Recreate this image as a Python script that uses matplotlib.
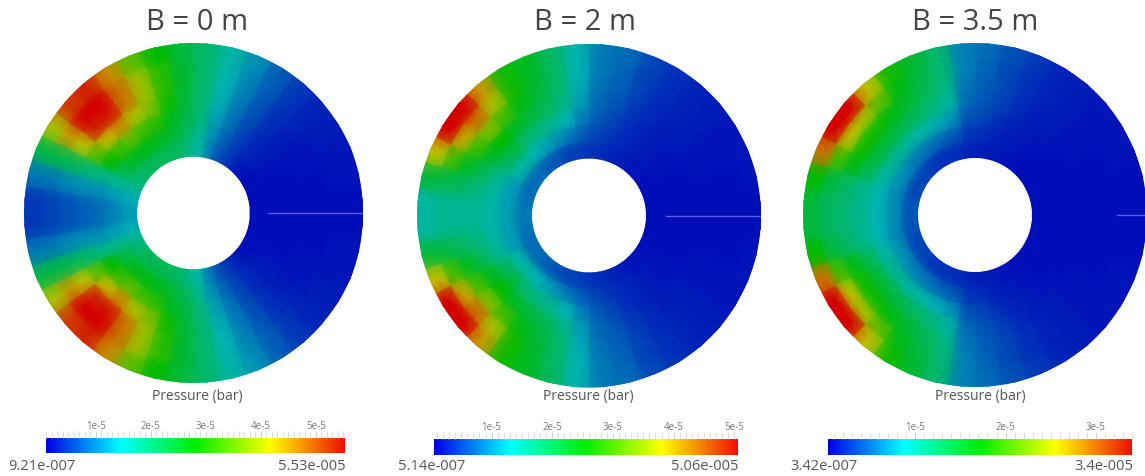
import numpy as np
import matplotlib
matplotlib.use('Agg')
import matplotlib.pyplot as plt
from matplotlib.colors import LinearSegmentedColormap

W, H = 1145, 477

titles = ['B = 0 m', 'B = 2 m', 'B = 3.5 m']
p_min = [0.0921, 0.0514, 0.0342]  # 1e-5 bar
p_max = [5.53, 5.06, 3.40]
min_labels = ['9.21e-007', '5.14e-007', '3.42e-007']
max_labels = ['5.53e-005', '5.06e-005', '3.4e-005']
bar_ticks = [[1, 2, 3, 4, 5], [1, 2, 3, 4, 5], [1, 2, 3]]
bar_tick_labels = [['1e-5', '2e-5', '3e-5', '4e-5', '5e-5'],
                   ['1e-5', '2e-5', '3e-5', '4e-5', '5e-5'],
                   ['1e-5', '2e-5', '3e-5']]

# position along the colour bar, read per mesh cell
# rows: sectors of 9 deg from 180 deg (left) to 0 deg (right), upper half
# columns: rings from inner to outer; lower half is the mirror image
ring_edges = [0.335, 0.43, 0.525, 0.62, 0.715, 0.81, 0.905, 1.0]
ring_nodes = [0.335, 0.3825, 0.4775, 0.5725, 0.6675, 0.7625, 0.8575, 0.9525, 1.0]
sector_edges = np.arange(0, 361, 9)
angle_nodes = np.arange(-4.5, 365, 9)

case_a = [
    [.22, .18, .15, .13, .11, .09, .08],
    [.24, .22, .20, .20, .19, .17, .17],
    [.30, .31, .32, .35, .38, .40, .40],
    [.35, .40, .50, .62, .74, .80, .72],
    [.37, .45, .57, .76, .96, 1.0, .92],
    [.38, .47, .62, .82, .97, 1.0, .95],
    [.38, .47, .58, .72, .84, .85, .82],
    [.38, .45, .55, .66, .70, .70, .62],
    [.36, .42, .46, .52, .55, .55, .50],
    [.32, .37, .40, .42, .43, .43, .42],
    [.27, .30, .33, .34, .35, .35, .35],
    [.18, .20, .22, .24, .25, .26, .27],
    [.12, .14, .16, .17, .18, .19, .20],
    [.08, .09, .10, .11, .12, .13, .13],
    [.05, .06, .06, .07, .07, .08, .08],
    [.03, .04, .04, .04, .05, .05, .05],
    [.02, .03, .03, .03, .03, .04, .04],
    [.02, .02, .02, .03, .03, .03, .03],
    [.02, .02, .02, .02, .02, .03, .03],
    [.02, .02, .02, .02, .02, .02, .02],
]

case_b = [
    [.17, .22, .27, .30, .30, .30, .28],
    [.16, .22, .28, .33, .37, .40, .42],
    [.15, .22, .30, .38, .45, .58, .75],
    [.15, .27, .37, .45, .58, .78, 1.0],
    [.15, .28, .40, .50, .66, .85, 1.0],
    [.13, .25, .35, .45, .58, .72, .80],
    [.12, .23, .33, .42, .47, .52, .52],
    [.10, .20, .30, .38, .42, .44, .45],
    [.09, .17, .25, .32, .35, .36, .37],
    [.08, .13, .18, .22, .24, .25, .26],
    [.07, .10, .13, .15, .16, .17, .17],
    [.06, .08, .10, .12, .13, .14, .15],
    [.05, .06, .07, .08, .09, .09, .10],
    [.04, .05, .05, .06, .06, .07, .07],
    [.03, .04, .04, .04, .05, .05, .05],
    [.03, .03, .03, .04, .04, .04, .04],
    [.02, .03, .03, .03, .03, .03, .03],
    [.02, .02, .02, .03, .03, .03, .03],
    [.02, .02, .02, .02, .02, .02, .03],
    [.02, .02, .02, .02, .02, .02, .02],
]

case_c = [
    [.12, .20, .25, .30, .34, .37, .42],
    [.11, .19, .25, .31, .36, .41, .50],
    [.10, .20, .28, .38, .47, .58, .85],
    [.10, .20, .30, .42, .52, .74, 1.0],
    [.09, .18, .30, .42, .52, .72, 1.0],
    [.08, .17, .28, .40, .48, .62, .75],
    [.07, .16, .27, .37, .43, .47, .52],
    [.07, .14, .24, .33, .38, .41, .43],
    [.06, .12, .20, .28, .32, .34, .35],
    [.05, .08, .12, .15, .17, .18, .18],
    [.04, .07, .10, .12, .13, .14, .15],
    [.04, .05, .07, .09, .10, .10, .11],
    [.03, .04, .05, .06, .07, .07, .08],
    [.03, .03, .04, .04, .05, .05, .05],
    [.02, .03, .03, .04, .04, .04, .04],
    [.02, .02, .03, .03, .03, .03, .03],
    [.02, .02, .02, .03, .03, .03, .03],
    [.02, .02, .02, .02, .02, .03, .03],
    [.02, .02, .02, .02, .02, .02, .02],
    [.02, .02, .02, .02, .02, .02, .02],
]
cases = [case_a, case_b, case_c]

# pixel layout of the three panels
centers = [(193.5, 214), (589, 216.5), (975, 216)]
radii = [170, 172, 172]
crack_start = [0.44, 0.45, 0.825]
bars = [(46, 345, 439, 454), (434, 738, 440, 456), (828, 1132, 440, 456)]
title_x = [197, 585, 975]
label_x = [197, 588, 980]
min_x = [8, 398, 790]

plt.rcParams['font.family'] = ['Open Sans', 'DejaVu Sans']

mesh_cmap = LinearSegmentedColormap.from_list(
    'mesh', ['#0000b8', '#00b4b4', '#00bb00', '#c0c000', '#d40000'])
bar_cmap = LinearSegmentedColormap.from_list(
    'bar', ['#0000e6', '#00ffff', '#00ee00', '#ffff00', '#f01000'])

fig = plt.figure(figsize=(W / 100, H / 100), dpi=100)


def px_text(x, y, s, **kw):
    fig.text(x / W, 1 - y / H, s, **kw)


for i in range(3):
    cx, cy = centers[i]
    R = radii[i]
    ax = fig.add_axes([(cx - R) / W, 1 - (cy + R) / H, 2 * R / W, 2 * R / H],
                      projection='polar')
    upper = np.array(cases[i])
    frac = np.vstack([upper[::-1], upper])
    pressure = p_min[i] + frac * (p_max[i] - p_min[i])

    # smooth layer for the blur of the original, blocks on top at low strength
    nodes = np.vstack([pressure[-1:], pressure, pressure[:1]])
    nodes = np.hstack([nodes[:, :1], nodes, nodes[:, -1:]])
    ax.pcolormesh(np.deg2rad(angle_nodes), ring_nodes, nodes.T,
                  shading='gouraud', cmap=mesh_cmap,
                  vmin=p_min[i], vmax=p_max[i])
    ax.pcolormesh(np.deg2rad(sector_edges), ring_edges, pressure.T,
                  cmap=mesh_cmap, vmin=p_min[i], vmax=p_max[i],
                  alpha=0.3, linewidth=0, antialiased=False)
    ax.plot([0, 0], [crack_start[i], 1.0], c='#5a5ae6', lw=1.0)
    ax.set_ylim(0, 1)
    ax.axis('off')

    px_text(title_x[i], 22, titles[i], fontsize=21, color='#444444',
            ha='center', va='center')
    px_text(label_x[i], 397, 'Pressure (bar)', fontsize=10, color='#555555',
            ha='center', va='center')

    x0, x1, y0, y1 = bars[i]
    cax = fig.add_axes([x0 / W, 1 - y1 / H, (x1 - x0) / W, (y1 - y0) / H])
    grad = np.linspace(p_min[i], p_max[i], 256).reshape(1, -1)
    cax.imshow(grad, aspect='auto', cmap=bar_cmap,
               extent=[p_min[i], p_max[i], 0, 1])
    cax.set_yticks([])
    for s in cax.spines.values():
        s.set_visible(False)
    cax.xaxis.tick_top()
    cax.set_xticks(bar_ticks[i])
    cax.set_xticklabels(bar_tick_labels[i], fontsize=7, color='#777777')
    cax.set_xticks(np.arange(np.ceil(p_min[i] * 10), p_max[i] * 10 + 0.01) / 10, minor=True)
    cax.tick_params(axis='x', which='major', length=5, width=0.6, color='#c8c8c8', pad=0)
    cax.tick_params(axis='x', which='minor', length=5, width=0.6, color='#d8d8d8')

    px_text(min_x[i], 467, min_labels[i], fontsize=10.5, color='#555555',
            ha='left', va='center')
    px_text(x1 + 1, 467, max_labels[i], fontsize=10.5, color='#555555',
            ha='right', va='center')

fig.savefig('out.png', dpi=100)
